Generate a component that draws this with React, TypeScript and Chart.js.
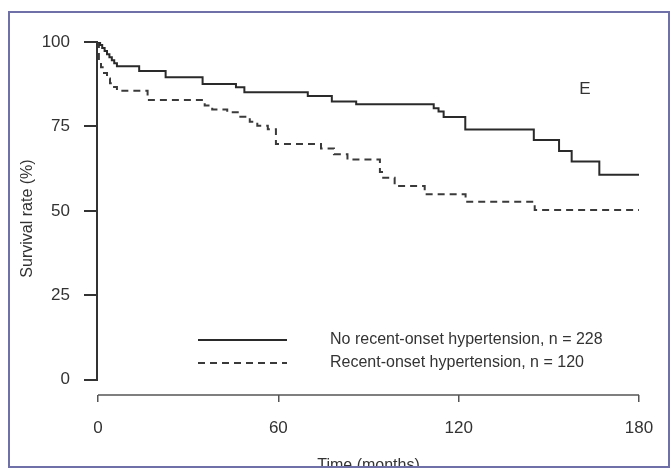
import React, { useEffect, useRef } from "react";
import { Chart, registerables } from "chart.js";

Chart.register(...registerables);

// ---- data ----
const noHtnTimes = [0, 0.7, 1.4, 2.2, 3.0, 3.8, 4.6, 5.4, 6.3, 13.7, 22.5, 34.8, 45.9, 48.7, 69.8, 77.8, 85.9, 111.7, 113.3, 115.0, 122.2, 145.0, 153.4, 157.6, 166.8, 180];
const noHtnSurvival = [100, 99.1, 98.2, 97.3, 96.4, 95.5, 94.6, 93.7, 92.8, 91.4, 89.6, 87.6, 86.6, 85.1, 84.0, 82.4, 81.6, 80.4, 79.4, 77.8, 74.1, 71.0, 67.7, 64.6, 60.7, 60.7];

const htnTimes = [0, 0.3, 1.0, 2.0, 3.0, 4.0, 5.0, 6.3, 16.5, 35.5, 38.0, 43.0, 47.0, 50.5, 53.0, 56.5, 59.2, 74.2, 78.5, 83.0, 93.8, 94.5, 98.7, 108.7, 122.3, 145.3, 180];
const htnSurvival = [100, 94.5, 92.5, 90.8, 89.2, 87.8, 86.7, 85.6, 82.8, 81.2, 80.0, 79.2, 77.9, 76.4, 75.2, 74.2, 69.8, 68.5, 66.8, 65.2, 61.5, 59.8, 57.4, 54.9, 52.7, 50.3, 50.3];

const xTicks = [0, 60, 120, 180];
const yTicks = [0, 25, 50, 75, 100];
const seriesLabels = [
  "No recent-onset hypertension, n = 228",
  "Recent-onset hypertension, n = 120",
];
const panelLabel = "E";
const xTitle = "Time (months)";
const yTitle = "Survival rate (%)";

const FONT = "'Liberation Sans', Arial, Helvetica, sans-serif";
const INK = "#333333";

const toPoints = (t: number[], s: number[]) => t.map((v, i) => ({ x: v, y: s[i] }));

const decorPlugin = {
  id: "decor",
  beforeDraw(chart: any) {
    const { ctx, width, height } = chart;
    ctx.save();
    ctx.fillStyle = "#ffffff";
    ctx.fillRect(0, 0, width, height);
    ctx.restore();
  },
  afterDraw(chart: any) {
    const { ctx, chartArea } = chart;
    const x = chart.scales.x;
    const y = chart.scales.y;
    ctx.save();
    // y axis line
    ctx.strokeStyle = INK;
    ctx.lineWidth = 2;
    ctx.beginPath();
    ctx.moveTo(chartArea.left - 1, y.getPixelForValue(yTicks[yTicks.length - 1]));
    ctx.lineTo(chartArea.left - 1, y.getPixelForValue(yTicks[0]));
    ctx.stroke();
    // x axis line (offset below the plot, R style)
    ctx.strokeStyle = "#555555";
    ctx.lineWidth = 1.5;
    ctx.beginPath();
    ctx.moveTo(x.getPixelForValue(xTicks[0]), chartArea.bottom);
    ctx.lineTo(x.getPixelForValue(xTicks[xTicks.length - 1]), chartArea.bottom);
    ctx.stroke();

    // legend
    const lx0 = 198, lx1 = 287, tx = 330;
    const rows = [340, 363];
    ctx.lineWidth = 2;
    chart.data.datasets.forEach((ds: any, i: number) => {
      ctx.strokeStyle = ds.borderColor;
      ctx.setLineDash(ds.borderDash || []);
      ctx.beginPath();
      ctx.moveTo(lx0, rows[i]);
      ctx.lineTo(lx1, rows[i]);
      ctx.stroke();
      ctx.setLineDash([]);
      ctx.fillStyle = INK;
      ctx.font = `16px ${FONT}`;
      ctx.textAlign = "left";
      ctx.textBaseline = "middle";
      ctx.fillText(ds.label, tx, rows[i]);
    });

    // panel label
    ctx.font = `17px ${FONT}`;
    ctx.fillStyle = INK;
    ctx.textAlign = "center";
    ctx.textBaseline = "middle";
    ctx.fillText(panelLabel, 585, 89);

    // clip outside the frame and draw the frame
    ctx.fillStyle = "#ffffff";
    ctx.fillRect(0, 468, chart.width, chart.height - 468);
    ctx.strokeStyle = "#7070a8";
    ctx.lineWidth = 2;
    ctx.strokeRect(9, 12, 660, 455);
    ctx.restore();
  },
};

export default function App() {
  const ref = useRef<HTMLCanvasElement>(null);

  useEffect(() => {
    const canvas = ref.current;
    if (!canvas) return;
    const chart = new Chart(canvas, {
      type: "line",
      data: {
        datasets: [
          {
            label: seriesLabels[0],
            data: toPoints(noHtnTimes, noHtnSurvival),
            borderColor: "#2a2a2a",
            borderWidth: 2,
            stepped: "before",
            pointRadius: 0,
            fill: false,
          },
          {
            label: seriesLabels[1],
            data: toPoints(htnTimes, htnSurvival),
            borderColor: "#3a3a3a",
            borderWidth: 2,
            borderDash: [7, 5],
            stepped: "before",
            pointRadius: 0,
            fill: false,
          },
        ],
      },
      options: {
        responsive: false,
        animation: false,
        devicePixelRatio: 1,
        layout: { padding: { left: 0, top: 42, right: 33, bottom: 0 } },
        plugins: {
          legend: { display: false },
          tooltip: { enabled: false },
          title: { display: false },
        },
        scales: {
          x: {
            type: "linear",
            min: 0,
            max: 180,
            afterBuildTicks: (s: any) => {
              s.ticks = xTicks.map((v) => ({ value: v }));
            },
            afterFit: (s: any) => {
              s.height = 75;
            },
            border: { display: false },
            grid: {
              drawOnChartArea: false,
              drawTicks: true,
              tickLength: 7,
              color: "#555555",
              lineWidth: 1.5,
            },
            ticks: {
              padding: 16,
              color: INK,
              font: { family: FONT, size: 17 },
              maxRotation: 0,
              callback: (v: any) => String(v),
            },
            title: {
              display: true,
              text: xTitle,
              color: INK,
              font: { family: FONT, size: 16 },
              padding: { top: 0, bottom: -5 },
            },
          },
          y: {
            type: "linear",
            min: -4.5,
            max: 100,
            afterBuildTicks: (s: any) => {
              s.ticks = yTicks.map((v) => ({ value: v }));
            },
            afterFit: (s: any) => {
              s.width = 98;
            },
            border: { display: false },
            grid: {
              drawOnChartArea: false,
              drawTicks: true,
              tickLength: 14,
              color: INK,
              lineWidth: 2,
            },
            ticks: {
              padding: 14,
              color: INK,
              font: { family: FONT, size: 17 },
              callback: (v: any) => String(v),
            },
            title: {
              display: true,
              text: yTitle,
              color: INK,
              font: { family: FONT, size: 16 },
              padding: { top: 18, bottom: 0 },
            },
          },
        },
      },
      plugins: [decorPlugin],
    } as any);
    return () => chart.destroy();
  }, []);

  return (
    <div style={{ position: "fixed", left: 0, top: 0, width: 672, height: 470, background: "#fff" }}>
      <canvas ref={ref} width={672} height={470} style={{ display: "block" }} />
    </div>
  );
}
